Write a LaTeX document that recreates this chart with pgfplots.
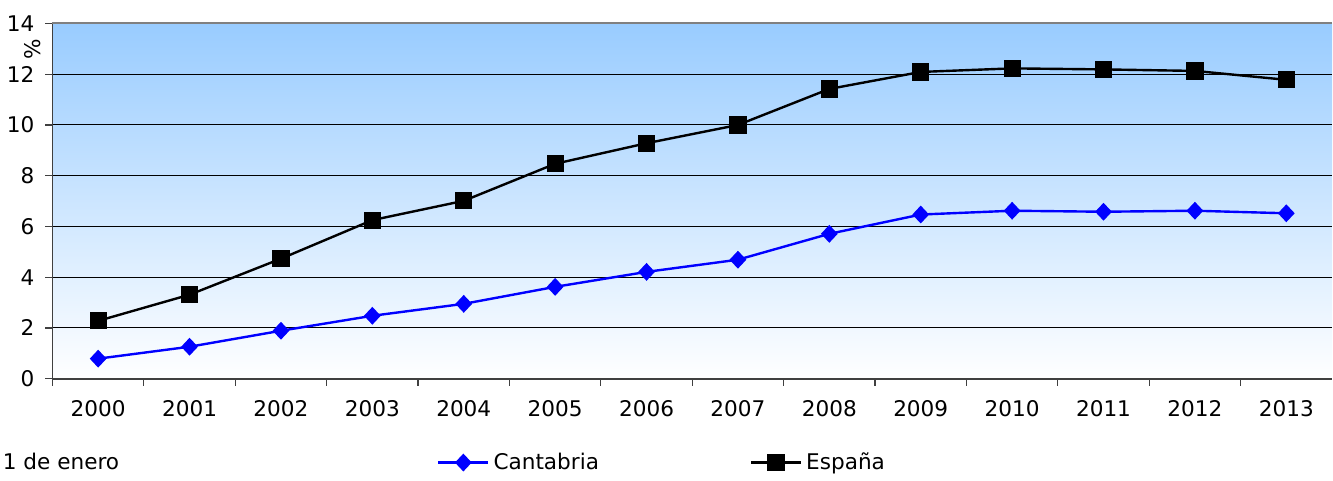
\documentclass[border=0pt]{standalone}
\usepackage{pgfplots}
\pgfplotsset{compat=1.18}
\usepackage{fontspec}
\setmainfont{DejaVu Sans}
\definecolor{skytop}{RGB}{153,204,255}
\definecolor{axgray}{RGB}{64,64,64}
\newcommand{\chartfont}{\fontsize{10.8}{13}\selectfont}
\begin{document}
\begin{tikzpicture}
\begin{axis}[
    at={(0,0)}, anchor=south west,
    scale only axis,
    width=640.25pt, height=177.75pt,
    xmin=-0.5, xmax=13.5,
    ymin=0, ymax=14,
    ytick={0,2,...,14},
    xtick={0,...,13},
    xticklabels={2000,2001,2002,2003,2004,2005,2006,2007,2008,2009,2010,2011,2012,2013},
    minor xtick={-0.5,0.5,...,12.5},
    major x tick style={draw=none},
    tick align=outside,
    major tick length=3.5pt,
    minor tick length=3.5pt,
    tick style={axgray, line width=0.6pt},
    axis x line*=bottom,
    axis y line*=left,
    axis line style={axgray, line width=0.8pt},
    ymajorgrids,
    grid style={black, line width=0.5pt},
    axis background/.style={top color=skytop, bottom color=white},
    /pgf/number format/assume math mode=true,
    ticklabel style={font=\chartfont},
    yticklabel style={xshift=-2pt},
    xticklabel style={yshift=-4pt},
    legend style={draw=none, fill=none, at={(0.4772,-0.236)}, anchor=center,
      font=\chartfont, legend columns=2,
      /tikz/every even column/.append style={column sep=73.5pt}},
    legend image code/.code={\draw[mark repeat=2,mark phase=2] plot coordinates {(0pt,0pt) (12.5pt,0pt) (25pt,0pt)};},
]
\addplot[blue, line width=1.2pt, mark=diamond*, mark size=3.6pt, mark options={xscale=1.25, solid}] coordinates {
(0,0.79) (1,1.26) (2,1.89) (3,2.48) (4,2.95) (5,3.62) (6,4.21)
(7,4.69) (8,5.71) (9,6.47) (10,6.62) (11,6.58) (12,6.62) (13,6.52)};
\addlegendentry{Cantabria}
\addplot[black, line width=1.2pt, mark=square*, mark size=3.7pt] coordinates {
(0,2.28) (1,3.31) (2,4.73) (3,6.25) (4,7.01) (5,8.47) (6,9.28)
(7,10.0) (8,11.42) (9,12.09) (10,12.23) (11,12.19) (12,12.13) (13,11.78)};
\addlegendentry{España}
\end{axis}
\draw[gray, line width=1pt] (0,177.75pt) -- (640.25pt,177.75pt);
\node[rotate=90, font=\chartfont] at (-9.75pt,165pt) {\%};
\node[anchor=west, font=\chartfont, inner sep=0pt] at (-25pt,-41.5pt) {1 de enero};
\path[use as bounding box] (-26.25pt,-48pt) rectangle (640.25pt,189.5pt);
\end{tikzpicture}
\end{document}
